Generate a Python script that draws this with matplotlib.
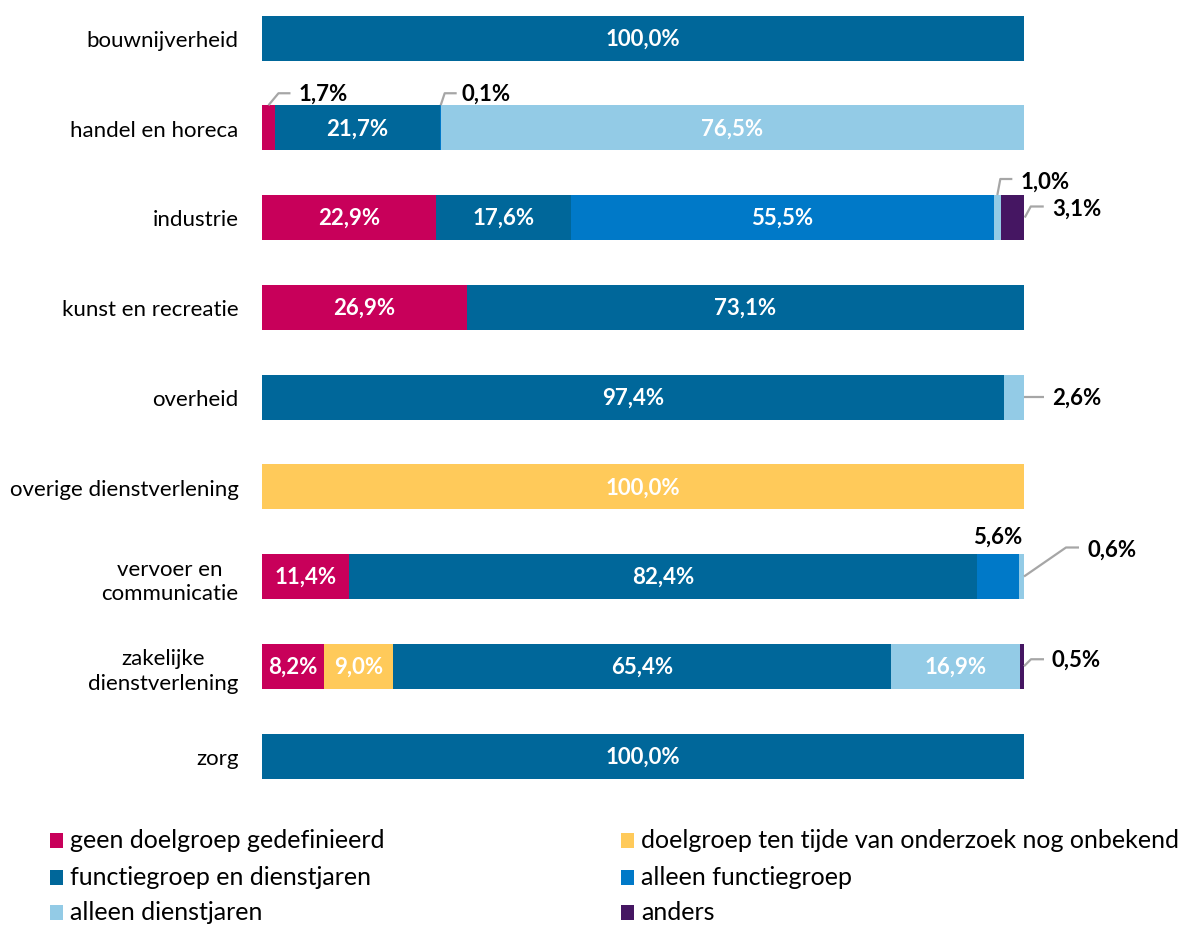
import matplotlib
matplotlib.use("Agg")
import matplotlib.pyplot as plt
from matplotlib.patches import Rectangle
import numpy as np

plt.rcParams['font.family'] = ['Lato', 'DejaVu Sans']

categories = ["bouwnijverheid", "handel en horeca", "industrie", "kunst en recreatie",
              "overheid", "overige dienstverlening", "vervoer en\ncommunicatie",
              "zakelijke\ndienstverlening", "zorg"]
series_names = ["geen doelgroep gedefinieerd", "doelgroep ten tijde van onderzoek nog onbekend",
                "functiegroep en dienstjaren", "alleen functiegroep",
                "alleen dienstjaren", "anders"]
geen = [0, 1.7, 22.9, 26.9, 0, 0, 11.4, 8.2, 0]
onbekend = [0, 0, 0, 0, 0, 100.0, 0, 9.0, 0]
functie_dienst = [100.0, 21.7, 17.6, 73.1, 97.4, 0, 82.4, 65.4, 100.0]
alleen_functie = [0, 0.1, 55.5, 0, 0, 0, 5.6, 0, 0]
alleen_dienst = [0, 76.5, 1.0, 0, 2.6, 0, 0.6, 16.9, 0]
anders = [0, 0, 3.1, 0, 0, 0, 0, 0.5, 0]
series = [geen, onbekend, functie_dienst, alleen_functie, alleen_dienst, anders]
colors = ["#C8005A", "#FFCA5A", "#00679A", "#0079C8", "#93CBE6", "#451662"]

# outside labels: (row, series) -> (anchor side, leader line px offsets, text offset px)
outside = {
    (1, 0): ("top", [(0, 0), (10, -12), (22, -12)], (30, -12)),
    (1, 3): ("top", [(0, 0), (4, -12), (16, -12)], (21, -12)),
    (2, 4): ("top", [(0, 0), (3, -16), (15, -16)], (23, -14)),
    (2, 5): ("right", [(0, 0), (6, -11), (19, -11)], (27, -9)),
    (4, 4): ("right", [(0, 0), (20, 0)], (28, 0)),
    (6, 3): ("above", None, (0, -40)),
    (6, 4): ("right", [(0, 0), (42, -29), (55, -29)], (63, -27)),
    (7, 5): ("right", [(0, 0), (7, -7), (20, -7)], (27, -7)),
}

W, H = 1179, 928
fig = plt.figure(figsize=(W / 100, H / 100), dpi=100)
ax_left, ax_right = 262 / W, 1024 / W
ax_top_px, ax_bot_px = 10, 800
ax = fig.add_axes([ax_left, 1 - ax_bot_px / H, ax_right - ax_left, (ax_bot_px - ax_top_px) / H])

row_px = 89.75
y = np.arange(len(categories))
ax.set_xlim(0, 100)
ax.set_ylim(8 + (ax_bot_px - 757) / row_px, -(39 - ax_top_px) / row_px)
bar_h = 45 / row_px
px_x = 100 / 762.0
px_y = 1 / row_px
VAL_FS = 16

left = np.zeros(len(categories))
for s, (vals, col) in enumerate(zip(series, colors)):
    vals = np.array(vals, dtype=float)
    ax.barh(y, vals, left=left, height=bar_h, color=col, label=series_names[s], linewidth=0)
    for i, v in enumerate(vals):
        if v <= 0:
            continue
        txt = f"{v:.1f}".replace(".", ",") + "%"
        cx = left[i] + v / 2
        if (i, s) in outside:
            side, pts, toff = outside[(i, s)]
            if side == "top":
                ax0, ay0 = cx, i - bar_h / 2
            elif side == "right":
                ax0, ay0 = left[i] + v, i
            else:
                ax0, ay0 = cx, i
            if pts:
                xs = [ax0 + dx * px_x for dx, dy in pts]
                ys = [ay0 + dy * px_y for dx, dy in pts]
                ax.plot(xs, ys, color="#A6A6A6", lw=1.6, solid_capstyle="butt", clip_on=False)
            ha = "center" if side == "above" else "left"
            ax.text(ax0 + toff[0] * px_x, ay0 + toff[1] * px_y, txt, ha=ha, va="center",
                    fontsize=VAL_FS, fontweight="bold", color="black", clip_on=False)
        else:
            ax.text(cx, i, txt, ha="center", va="center", fontsize=VAL_FS,
                    fontweight="bold", color="white")
    left += vals

ax.set_yticks(y)
ax.set_yticklabels(categories, fontsize=16, multialignment="center", linespacing=1.3)
ax.tick_params(axis="y", length=0, pad=17)
ax.set_xticks([])
for sp in ax.spines.values():
    sp.set_visible(False)

# legend (row-wise, two columns)
leg_cols_px = [50, 621]
leg_rows_px = [841, 878, 913]
for k, (name, col) in enumerate(zip(series_names, colors)):
    r, c = divmod(k, 2)
    mx, my = leg_cols_px[c], leg_rows_px[r]
    fig.patches.append(Rectangle((mx / W, 1 - (my + 7.5) / H), 13 / W, 15 / H,
                                 transform=fig.transFigure, facecolor=col, edgecolor="none"))
    fig.text((mx + 20) / W, 1 - my / H, name, fontsize=18, va="center", ha="left")

fig.savefig("out.png", dpi=100)
